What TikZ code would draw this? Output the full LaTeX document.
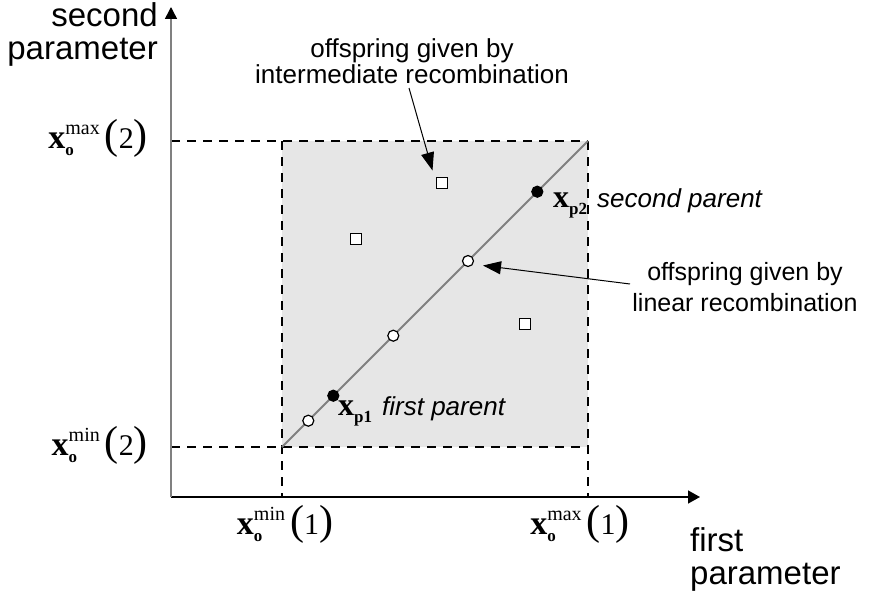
\documentclass[tikz,border=0pt]{standalone}
\usepackage{fontspec}
\setmainfont{Liberation Serif}
\newfontfamily\sansf{Liberation Sans}
\usetikzlibrary{arrows.meta}
\definecolor{boxfill}{RGB}{230,230,230}
\definecolor{diag}{RGB}{128,128,128}
\newcommand{\fsz}[1]{\fontsize{#1}{#1}\selectfont}
\newcommand{\xolab}[3]{{\fsz{34}\textbf{x}}\makebox[0pt][l]{\raisebox{-7pt}{\fsz{17}\textbf{#1}}}\raisebox{14pt}{\fsz{20}#2}\hspace{5pt}{\fsz{42}(}{\fsz{30}#3}{\fsz{42})}}
\newcommand{\xplab}[1]{{\fsz{32}\textbf{x}}\raisebox{-7pt}{\fsz{17}\textbf{#1}}}
\tikzset{
  dashline/.style={line width=2pt, dash pattern=on 9pt off 7pt},
  axisarrow/.style={-{Triangle[length=12pt,width=13pt]}},
  callout/.style={line width=1pt, -{Triangle[length=18pt,width=13pt]}},
  opendot/.style={circle, draw, fill=white, line width=1.2pt, inner sep=0pt, minimum size=11pt},
  fulldot/.style={circle, draw, fill=black, line width=1.2pt, inner sep=0pt, minimum size=11pt},
  sqr/.style={rectangle, draw, fill=white, line width=1.2pt, inner sep=0pt, minimum size=11pt},
  sanstext/.style={font=\sansf\fontsize{25}{28}\selectfont, inner sep=0pt},
  axtitle/.style={font=\sansf\fontsize{33}{33}\selectfont, inner sep=0pt},
  mathlab/.style={inner sep=0pt},
}
\begin{document}
\begin{tikzpicture}[x=1pt,y=-1pt]
\useasboundingbox (0,0) rectangle (875,594);
% box
\fill[boxfill] (282,141) rectangle (588,447);
\draw[dashline] (171,141) -- (588,141);
\draw[dashline] (171,447) -- (588,447);
\draw[dashline] (282,141) -- (282,497);
\draw[dashline] (588,141) -- (588,497);
% axes
\coordinate (O) at (171,497);
\coordinate (Xend) at (700,497);
\coordinate (Yend) at (171,7);
\draw[line width=1.5pt, axisarrow] (O) -- (Xend);
\draw[line width=1.5pt, diag, -{Triangle[length=12pt,width=12pt,color=black]}] (O) -- (Yend);
% diagonal
\coordinate (D0) at (282,447);
\coordinate (D1) at (588,141);
\draw[diag, line width=2pt] (D0) -- (D1);
% points
\node[opendot] (c1) at (308.3,420.7) {};
\node[fulldot] (p1) at (333.3,395.7) {};
\node[opendot] (c2) at (393.3,335.7) {};
\node[opendot] (c3) at (468,261) {};
\node[fulldot] (p2) at (537.3,191.7) {};
\node[sqr] (s1) at (442.3,183.3) {};
\node[sqr] (s2) at (356,239.3) {};
\node[sqr] (s3) at (524.7,324) {};
% callouts
\node[sanstext, font=\sansf\fontsize{26}{26}\selectfont, align=center] (t1) at (412,61) {offspring given by\\intermediate recombination};
\node[sanstext, align=center] (t2) at (745,287) {offspring given by\\[3pt]linear recombination};
\coordinate (a1s) at (409,88);
\coordinate (a1e) at (432.5,170.5);
\coordinate (a2s) at (630,284);
\coordinate (a2e) at (483,265.5);
\draw[callout] (a1s) -- (a1e);
\draw[callout] (a2s) -- (a2e);
% parent labels
\node[mathlab, anchor=base west] (lp1) at (338,415) {\xplab{p1}};
\node[inner sep=0pt, font=\sansf\itshape\fsz{26}, anchor=base west] (lp1t) at (382,415) {first parent};
\node[mathlab, anchor=base west] (lp2) at (553,207) {\xplab{p2}};
\node[inner sep=0pt, font=\sansf\itshape\fsz{26}, anchor=base west] (lp2t) at (597,207) {second parent};
% axis value labels
\node[mathlab, anchor=base east] (ymax) at (148,148) {\xolab{o}{max}{2}};
\node[mathlab, anchor=base east] (ymin) at (148,455) {\xolab{o}{min}{2}};
\node[mathlab, anchor=base] (xmin) at (285,534) {\xolab{o}{min}{1}};
\node[mathlab, anchor=base] (xmax) at (580,534) {\xolab{o}{max}{1}};
% axis titles
\node[axtitle, align=right, anchor=north east] (yt) at (158,2) {second\\parameter};
\node[axtitle, align=left, anchor=north west] (xt) at (690,527) {first\\parameter};
\end{tikzpicture}
\end{document}
